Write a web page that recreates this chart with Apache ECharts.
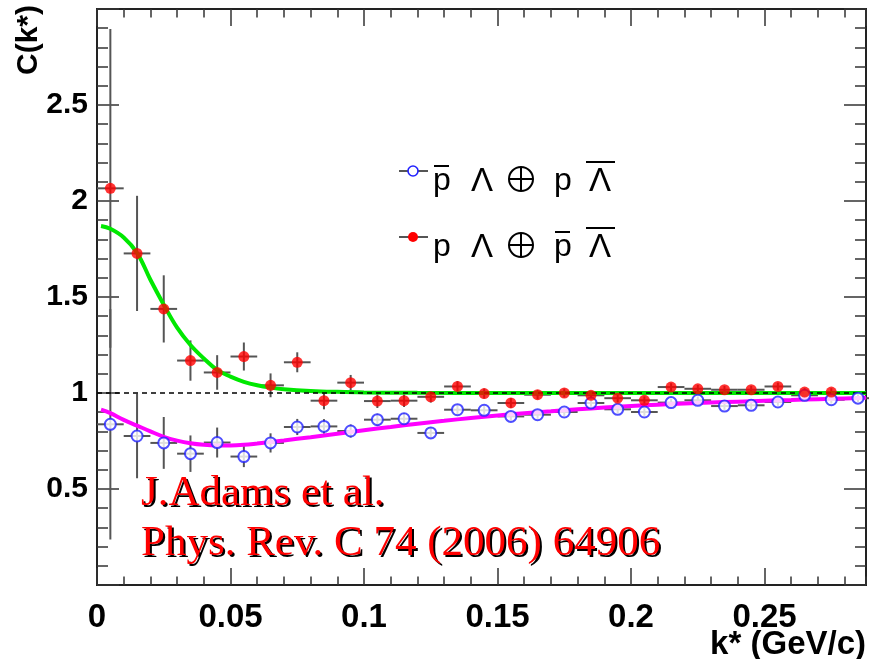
<!DOCTYPE html>
<html><head><meta charset="utf-8">
<script src="https://cdn.jsdelivr.net/npm/echarts@6/dist/echarts.min.js"></script>
<style>html,body{margin:0;padding:0;background:#fff}#c{width:869px;height:659px}</style>
</head><body><div id="c"></div>
<script>
// ---- data ----
const kCenters = [0.005,0.015,0.025,0.035,0.045,0.055,0.065,0.075,0.085,0.095,0.105,0.115,0.125,0.135,0.145,0.155,0.165,0.175,0.185,0.195,0.205,0.215,0.225,0.235,0.245,0.255,0.265,0.275,0.285];
const binHalfWidth = 0.005;
// p Lambda (+) pbar Lambdabar  (red, filled)
const redC   = [2.066,1.727,1.438,1.169,1.107,1.19,1.04,1.16,0.96,1.054,0.958,0.96,0.98,1.034,0.997,0.948,0.991,1.0,0.988,0.973,0.962,1.031,1.022,1.017,1.017,1.034,1.005,1.005];
const redErr = [0.83,0.30,0.175,0.105,0.09,0.073,0.062,0.052,0.045,0.04,0.036,0.033,0.03,0.028,0.026,0.025,0.024,0.023,0.022,0.021,0.02,0.02,0.02,0.02,0.02,0.02,0.02,0.02];
// pbar Lambda (+) p Lambdabar  (blue, open)
const blueC   = [0.837,0.776,0.74,0.684,0.742,0.669,0.74,0.823,0.826,0.802,0.861,0.866,0.792,0.913,0.910,0.878,0.887,0.901,0.948,0.915,0.901,0.950,0.962,0.932,0.936,0.953,0.988,0.965,0.973];
const blueErr = [0.6,0.22,0.135,0.095,0.078,0.055,0.05,0.042,0.038,0.034,0.031,0.029,0.027,0.025,0.024,0.023,0.022,0.021,0.02,0.02,0.02,0.02,0.02,0.02,0.02,0.02,0.02,0.02,0.02];
// fit curves
const greenK = [0.0015,0.005,0.01,0.015,0.02,0.025,0.03,0.035,0.04,0.045,0.05,0.055,0.06,0.065,0.07,0.08,0.09,0.1,0.12,0.15,0.2,0.288];
const greenC = [1.87,1.855,1.81,1.73,1.59,1.46,1.34,1.25,1.18,1.12,1.085,1.058,1.04,1.028,1.02,1.011,1.006,1.003,1.001,1.0,1.0,1.0];
const magentaK = [0.0015,0.005,0.01,0.015,0.02,0.025,0.03,0.035,0.04,0.045,0.05,0.055,0.06,0.065,0.07,0.08,0.09,0.1,0.11,0.12,0.13,0.14,0.15,0.16,0.17,0.18,0.19,0.2,0.21,0.22,0.23,0.24,0.25,0.26,0.27,0.28,0.288];
const magentaC = [0.913,0.895,0.86,0.83,0.80,0.772,0.752,0.738,0.73,0.727,0.727,0.73,0.737,0.745,0.753,0.77,0.788,0.806,0.823,0.84,0.855,0.87,0.883,0.895,0.905,0.915,0.924,0.932,0.939,0.945,0.95,0.955,0.96,0.964,0.968,0.972,0.975];
const refLineK = [0, 0.288];
const refLineC = [1, 1];
const xMin = 0, xMax = 0.288, xMajor = 0.05, xMinor = 0.01;
const yMin = 0, yMax = 3, yMajor = 0.5;
const xTickLabels = ['0','0.05','0.1','0.15','0.2','0.25'];
const yTickLabels = ['0.5','1','1.5','2','2.5'];

// ---- chart ----
const chart = echarts.init(document.getElementById('c'), null, {renderer:'canvas'});
const redData = redC.map((c,i)=>[kCenters[i], c, redErr[i]]);
const blueData = blueC.map((c,i)=>[kCenters[i], c, blueErr[i]]);
const tickCol = '#333';
const fmtX = v => { const s = xTickLabels.find(t => Math.abs(parseFloat(t)-v) < 1e-9); return s === undefined ? '' : s; };
const fmtY = v => { const s = yTickLabels.find(t => Math.abs(parseFloat(t)-v) < 1e-9); return s === undefined ? '' : s; };

function errBars(data){
  return {
    type:'custom', xAxisIndex:0, yAxisIndex:0, z:3, silent:true,
    data: data,
    encode:{x:0, y:1},
    renderItem:(params, api)=>{
      const k = api.value(0), c = api.value(1), e = api.value(2);
      const a = api.coord([k-binHalfWidth, c]), b = api.coord([k+binHalfWidth, c]);
      const lo = api.coord([k, c-e]), hi = api.coord([k, c+e]);
      const st = {stroke:'#555', lineWidth:2};
      return {type:'group', children:[
        {type:'line', shape:{x1:a[0],y1:a[1],x2:b[0],y2:b[1]}, style:st},
        {type:'line', shape:{x1:lo[0],y1:lo[1],x2:hi[0],y2:hi[1]}, style:st}
      ]};
    }
  };
}
function xAx(pos, interval, tickLen, labels){
  return {type:'value', position:pos, min:xMin, max:xMax, interval:interval,
    axisLine:{show:true, onZero:false, lineStyle:{color:'#222', width:2}},
    axisTick:{show:true, inside:true, length:tickLen, lineStyle:{color:tickCol, width:1.5}},
    splitLine:{show:false},
    axisLabel: labels ? {show:true, formatter:fmtX, showMaxLabel:false, margin:16, color:'#000',
      fontFamily:'"Liberation Sans", Arial, sans-serif', fontWeight:'bold', fontSize:33} : {show:false}
  };
}
function yAx(pos, labels){
  return {type:'value', position:pos, min:yMin, max:yMax, interval:yMajor,
    axisLine:{show:true, onZero:false, lineStyle:{color:'#222', width:2}},
    axisTick:{show:true, inside:true, length:22, lineStyle:{color:tickCol, width:1.5}},
    minorTick:{show:true, splitNumber:5, length:11, lineStyle:{color:tickCol, width:1.5}},
    splitLine:{show:false}, minorSplitLine:{show:false},
    axisLabel: labels ? {show:true, formatter:fmtY, margin:9, color:'#000',
      fontFamily:'"Liberation Sans", Arial, sans-serif', fontWeight:'bold', fontSize:30} : {show:false}
  };
}
const sans = '"Liberation Sans", Arial, sans-serif';
const legendRow = (y, filled, overFirst) => {
  const els = [
    {type:'line', shape:{x1:399,y1:y,x2:428,y2:y}, style:{stroke:'#555', lineWidth:2}},
    {type:'circle', shape:{cx:413, cy:y, r:5}, style: filled ? {fill:'#ff0000'} : {fill:'#fff', stroke:'#2222ff', lineWidth:1.6}},
    {type:'text', x:442, y:y+10, style:{text:'p', font:'32px '+sans, fill:'#000', align:'center', verticalAlign:'middle'}},
    {type:'text', x:482, y:y+11, style:{text:'Λ', font:'33px '+sans, fill:'#000', align:'center', verticalAlign:'middle'}},
    {type:'circle', shape:{cx:521, cy:y+8, r:12}, style:{fill:'none', stroke:'#000', lineWidth:2}},
    {type:'line', shape:{x1:509, y1:y+8, x2:533, y2:y+8}, style:{stroke:'#000', lineWidth:2}},
    {type:'line', shape:{x1:521, y1:y-4, x2:521, y2:y+20}, style:{stroke:'#000', lineWidth:2}},
    {type:'text', x:563, y:y+10, style:{text:'p', font:'32px '+sans, fill:'#000', align:'center', verticalAlign:'middle'}},
    {type:'text', x:600, y:y+11, style:{text:'Λ', font:'33px '+sans, fill:'#000', align:'center', verticalAlign:'middle'}},
    {type:'rect', shape:{x:586, y:y-10, width:29, height:2}, style:{fill:'#000'}}
  ];
  if (overFirst) els.push({type:'rect', shape:{x:434, y:y-6, width:15, height:2}, style:{fill:'#000'}});
  else els.push({type:'rect', shape:{x:555, y:y-6, width:15, height:2}, style:{fill:'#000'}});
  return els;
};
const serifTxt = (y, t) => [
  {type:'text', x:143, y:y+2, style:{text:t, font:'43px "Liberation Serif", "Times New Roman", serif', fill:'#000', align:'left', verticalAlign:'middle'}},
  {type:'text', x:141, y:y, style:{text:t, font:'43px "Liberation Serif", "Times New Roman", serif', fill:'#ff0000', align:'left', verticalAlign:'middle'}}
];

chart.setOption({
  animation:false,
  backgroundColor:'#fff',
  grid:{left:97, right:3, top:9, bottom:74, show:true, borderColor:'#222', borderWidth:2, backgroundColor:'transparent'},
  xAxis:[ xAx('bottom', xMajor, 17, true), xAx('bottom', xMinor, 8.5, false), xAx('top', xMajor, 17, false), xAx('top', xMinor, 8.5, false) ],
  yAxis:[ yAx('left', true), yAx('right', false) ],
  series:[
    errBars(blueData),
    errBars(redData),
    {type:'line', xAxisIndex:0, yAxisIndex:0, data:greenK.map((k,i)=>[k, greenC[i]]), smooth:0.4, showSymbol:false, silent:true, z:4,
      lineStyle:{color:'#00e800', width:4}},
    {type:'line', xAxisIndex:0, yAxisIndex:0, data:magentaK.map((k,i)=>[k, magentaC[i]]), smooth:0.4, showSymbol:false, silent:true, z:4,
      lineStyle:{color:'#ff00ff', width:4}},
    {type:'line', xAxisIndex:0, yAxisIndex:0, data:refLineK.map((k,i)=>[k, refLineC[i]]), showSymbol:false, silent:true, z:5,
      lineStyle:{color:'#000', width:1.3, type:[5,4]}},
    {type:'scatter', xAxisIndex:0, yAxisIndex:0, data:blueData.map(d=>[d[0], d[1]]), symbol:'circle', symbolSize:11, z:6, silent:true,
      itemStyle:{color:'#fff', borderColor:'#2222ff', borderWidth:2}},
    {type:'scatter', xAxisIndex:0, yAxisIndex:0, data:redData.map(d=>[d[0], d[1]]), symbol:'circle', symbolSize:11, z:6, silent:true,
      itemStyle:{color:'#ff0000'}}
  ],
  graphic:[
    {type:'text', x:29, y:40, rotation:Math.PI/2, style:{text:'C(k*)', font:'bold 30px "Liberation Sans", Arial, sans-serif', fill:'#000', align:'center', verticalAlign:'middle'}},
    {type:'text', x:866, y:645, style:{text:'k* (GeV/c)', font:'bold 33px "Liberation Sans", Arial, sans-serif', fill:'#000', align:'right', verticalAlign:'middle'}},
    ...legendRow(171, false, true),
    ...legendRow(237, true, false),
    ...serifTxt(494, 'J.Adams et al.'),
    ...serifTxt(544, 'Phys. Rev. C 74 (2006) 64906')
  ]
});
</script></body></html>
